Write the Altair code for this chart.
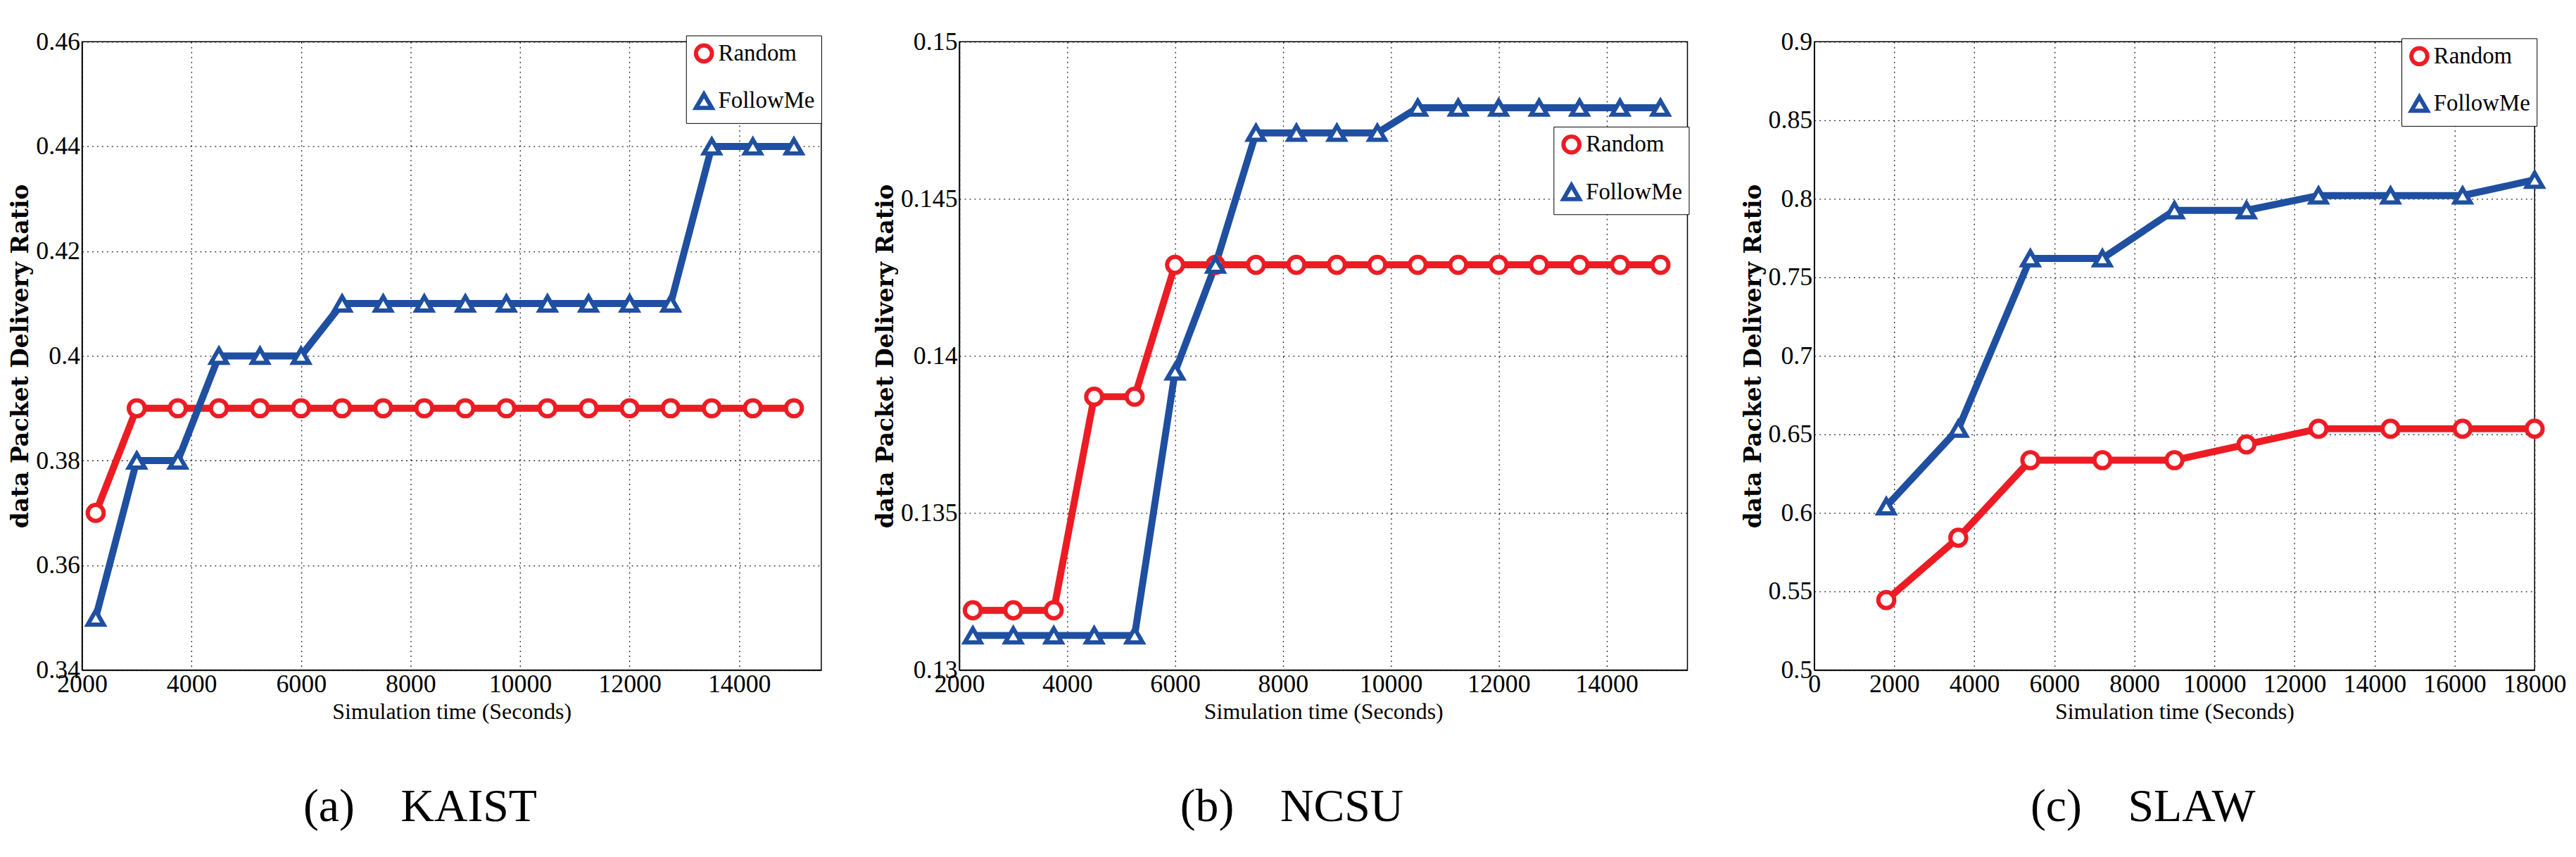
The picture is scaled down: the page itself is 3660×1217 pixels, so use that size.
import altair as alt
import pandas as pd

# ---------------- data ----------------
series_names = ["Random", "FollowMe"]

xa = [2250, 3000, 3750, 4500, 5250, 6000, 6750, 7500, 8250, 9000,
      9750, 10500, 11250, 12000, 12750, 13500, 14250, 15000]
random_a = [0.37, 0.39, 0.39, 0.39, 0.39, 0.39, 0.39, 0.39, 0.39, 0.39,
            0.39, 0.39, 0.39, 0.39, 0.39, 0.39, 0.39, 0.39]
follow_a = [0.35, 0.38, 0.38, 0.40, 0.40, 0.40, 0.41, 0.41, 0.41, 0.41,
            0.41, 0.41, 0.41, 0.41, 0.41, 0.44, 0.44, 0.44]

xb = [2250, 3000, 3750, 4500, 5250, 6000, 6750, 7500, 8250, 9000,
      9750, 10500, 11250, 12000, 12750, 13500, 14250, 15000]
random_b = [0.1319, 0.1319, 0.1319, 0.1387, 0.1387, 0.1429, 0.1429, 0.1429, 0.1429, 0.1429,
            0.1429, 0.1429, 0.1429, 0.1429, 0.1429, 0.1429, 0.1429, 0.1429]
follow_b = [0.1311, 0.1311, 0.1311, 0.1311, 0.1311, 0.1395, 0.1429, 0.1471, 0.1471, 0.1471,
            0.1471, 0.1479, 0.1479, 0.1479, 0.1479, 0.1479, 0.1479, 0.1479]

xc = [1800, 3600, 5400, 7200, 9000, 10800, 12600, 14400, 16200, 18000]
random_c = [0.5445, 0.5842, 0.6336, 0.6336, 0.6336, 0.6436, 0.6536, 0.6536, 0.6536, 0.6536]
follow_c = [0.6042, 0.6536, 0.7621, 0.7621, 0.7927, 0.7927, 0.8021, 0.8021, 0.8021, 0.8121]

xticks_ab = [2000, 4000, 6000, 8000, 10000, 12000, 14000]
xticks_c = [0, 2000, 4000, 6000, 8000, 10000, 12000, 14000, 16000, 18000]
yticks_a = [0.34, 0.36, 0.38, 0.40, 0.42, 0.44, 0.46]
yticks_b = [0.13, 0.135, 0.14, 0.145, 0.15]
yticks_c = [0.5, 0.55, 0.6, 0.65, 0.7, 0.75, 0.8, 0.85, 0.9]

NB = "\u00a0"
captions = ["(a)" + NB * 4 + "KAIST", "(b)" + NB * 4 + "NCSU", "(c)" + NB * 4 + "SLAW"]

RED = "#ED1C24"
BLUE = "#1F4FA0"
TICK_FONT = "Liberation Serif"


def frame(x, r, f):
    rows = []
    for xi, v in zip(x, r):
        rows.append({"t": xi, "v": v, "s": "Random"})
    for xi, v in zip(x, f):
        rows.append({"t": xi, "v": v, "s": "FollowMe"})
    return pd.DataFrame(rows)


def panel(df, xdom, xticks, ydom, yticks, width, legx, legy, caption):
    xenc = alt.X("t:Q", scale=alt.Scale(domain=xdom, nice=False, zero=False),
                 axis=alt.Axis(values=xticks, format="d",
                               title="Simulation time (Seconds)"))
    yenc = alt.Y("v:Q", scale=alt.Scale(domain=ydom, nice=False, zero=False),
                 axis=alt.Axis(values=yticks, format="~g",
                               title="data Packet Delivery Ratio"))
    col_scale = alt.Scale(domain=series_names, range=[RED, BLUE])
    shape_scale = alt.Scale(domain=series_names, range=["circle", "triangle-up"])
    leg = alt.Legend(title=None, orient="none", legendX=legx, legendY=legy)
    lines = alt.Chart(df).mark_line(strokeWidth=10, clip=False).encode(
        x=xenc, y=yenc,
        color=alt.Color("s:N", scale=col_scale, legend=leg),
        detail="s:N",
    )
    pts = alt.Chart(df).mark_point(filled=False, fill="white", strokeWidth=6,
                                   size=520, opacity=1, clip=False).encode(
        x=xenc, y=yenc,
        color=alt.Color("s:N", scale=col_scale, legend=leg),
        shape=alt.Shape("s:N", scale=shape_scale, legend=leg),
    )
    return alt.layer(lines, pts).properties(
        width=width, height=896,
        title=alt.TitleParams(caption, orient="bottom", fontSize=66,
                              font="Liberation Serif", fontWeight="normal",
                              color="#000", offset=88, dx=-45),
    )


pa = panel(frame(xa, random_a, follow_a), [2000, 15500], xticks_ab, [0.34, 0.46],
           yticks_a, 1055, 862, -9, captions[0])
pb = panel(frame(xb, random_b, follow_b), [2000, 15500], xticks_ab, [0.13, 0.15],
           yticks_b, 1039, 848, 121, captions[1])
pc = panel(frame(xc, random_c, follow_c), [0, 18000], xticks_c, [0.5, 0.9],
           yticks_c, 1028, 838, -5, captions[2])

chart = alt.hconcat(pa, pb, pc, spacing=73).resolve_scale(
    x="independent", y="independent", color="independent", shape="independent"
).resolve_legend(color="independent", shape="independent").properties(
    padding={"top": 30, "left": 5, "right": 5, "bottom": 5}
).configure_view(
    stroke="#000", strokeWidth=1.5
).configure_axis(
    labelFont=TICK_FONT, labelFontSize=36, labelColor="#000",
    labelFlush=False, labelOverlap=False, labelPadding=3,
    ticks=False, domainColor="#000", domainWidth=1.5,
    grid=True, gridColor="#000", gridDash=[2, 5], gridWidth=1.3, gridOpacity=0.85,
    titleColor="#000",
).configure_axisX(
    titleFont=TICK_FONT, titleFontSize=32, titleFontWeight="normal", titlePadding=6,
).configure_axisY(
    titleFont="DejaVu Serif", titleFontSize=33, titleFontWeight="bold", titlePadding=4,
).configure_legend(
    strokeColor="#000", fillColor="#fff", padding=9, rowPadding=22,
    labelFont=TICK_FONT, labelFontSize=33, labelColor="#000",
    symbolSize=520, symbolStrokeWidth=6, symbolFillColor="#fff",
    cornerRadius=0, labelOffset=4,
)

chart.save("out.html", embed_options={"renderer": "svg", "actions": False})
